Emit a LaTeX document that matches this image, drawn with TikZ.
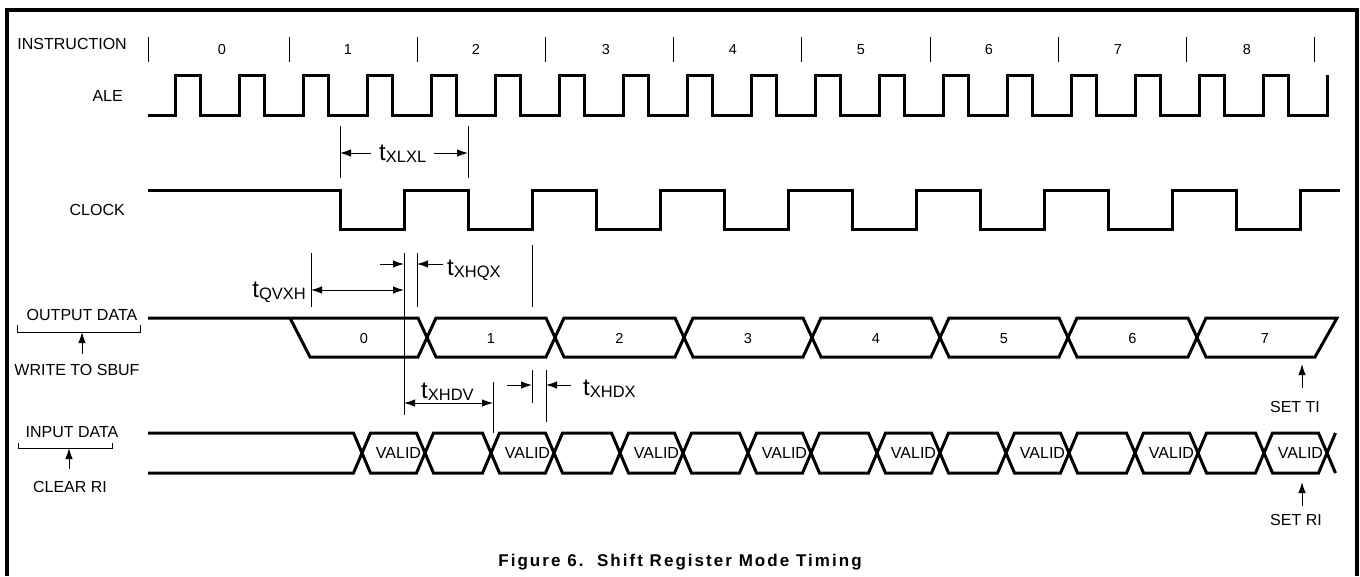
\documentclass[tikz,border=0pt]{standalone}
\usepackage{fontspec}
\setmainfont{Liberation Sans}
\usetikzlibrary{arrows.meta}
\newcommand{\tlab}[1]{{\fontsize{24}{24}\selectfont t}\raisebox{-2.5pt}{\fontsize{16.5}{17}\selectfont #1}}
\tikzset{
  sig/.style={line width=3pt},
  thinln/.style={line width=1pt},
  dim/.style={line width=1pt,-{Latex[length=11pt,width=7.5pt]}},
  dimboth/.style={line width=1pt,{Latex[length=11pt,width=7.5pt]}-{Latex[length=11pt,width=7.5pt]}},
  lbl/.style={font=\fontsize{16}{17}\selectfont, inner sep=0pt},
  num/.style={font=\fontsize{14.5}{15}\selectfont, inner sep=0pt, anchor=base},
  vlbl/.style={font=\fontsize{16}{17}\selectfont, inner sep=0pt, anchor=base},
  tl/.style={inner sep=0pt},
}
\begin{document}
\begin{tikzpicture}[x=1pt,y=-1pt]
\useasboundingbox (0,0) rectangle (1360,576);
% frame
\draw[line width=3.5pt] (7,576) -- (7,10) -- (1357,10) -- (1357,576);

% signal names
\node[lbl,anchor=east] (instr) at (127,44) {INSTRUCTION};
\node[lbl,anchor=east] (ale) at (123,96) {ALE};
\node[lbl,anchor=east] (clk) at (125,210) {CLOCK};
\node[lbl] (od) at (82,315) {OUTPUT DATA};
\node[lbl] (wsb) at (77,370) {WRITE TO SBUF};
\node[lbl] (id) at (72,432) {INPUT DATA};
\node[lbl] (cri) at (70,487) {CLEAR RI};
\node[lbl] (sti) at (1295,407) {SET TI};
\node[lbl] (sri) at (1296,520) {SET RI};

% brackets and arrows at left
\draw[thinln] (17,325) -- (17,332) -- (140,332) -- (140,325);
\coordinate (wsbtip) at (82,332);
\coordinate (wsbtail) at (82,354);
\draw[dim] (wsbtail) -- (wsbtip);
\draw[thinln] (18,443) -- (18,448) -- (112,448) -- (112,443);
\coordinate (critip) at (69,448);
\coordinate (critail) at (69,469);
\draw[dim] (critail) -- (critip);

% SET TI / SET RI arrows
\coordinate (stitip) at (1302,364);
\coordinate (stitail) at (1302,388);
\draw[dim] (stitail) -- (stitip);
\coordinate (sritip) at (1302,482);
\coordinate (sritail) at (1302,506);
\draw[dim] (sritail) -- (sritip);

% instruction ticks and numbers
\foreach \x in {148,289,417,545,673,801,930,1058,1186,1314}
  \draw[thinln] (\x,37) -- (\x,62);
\foreach \x/\n in {222/0,348/1,476/2,606/3,733/4,861/5,989/6,1118/7,1247/8}
  \node[num] (i\n) at (\x,54) {\n};

% ALE
\draw[sig] (148,115) \foreach \k in {0,...,17}{ -- ({175+64*\k},115) -- ({175+64*\k},75) -- ({200+64*\k},75) -- ({200+64*\k},115) } -- (1327,115) -- (1327,75);

% CLOCK
\draw[sig] (148,190) \foreach \k in {0,...,7}{ -- ({340+128*\k},190) -- ({340+128*\k},229) -- ({404+128*\k},229) -- ({404+128*\k},190) } -- (1340,190);

% OUTPUT DATA bus
\draw[sig] (148,318) -- (418,318) -- (427,337.5) -- (418,357) -- (310,357) -- (290,318);
\node[num] (o0) at (364,343) {0};
\foreach \a/\b/\n in {427/555/1,555/684/2,684/812/3,812/940/4,940/1068/5,1068/1197/6} {
  \draw[sig] (\a,337.5) -- (\a+9,318) -- (\b-9,318) -- (\b,337.5) -- (\b-9,357) -- (\a+9,357) -- cycle;
  \node[num] (o\n) at ({(\a+\b)/2},343) {\n};
}
\draw[sig] (1197,337.5) -- (1206,318) -- (1337,318) -- (1315,357) -- (1206,357) -- cycle;
\node[num] (o7) at (1265,343) {7};

% INPUT DATA bus
\draw[sig] (148,433) -- (353.5,433) -- (362,453) -- (353.5,473) -- (148,473);
\foreach \a/\b in {362/425,425/491,491/554,554/620,620/683,683/748,748/811,811/877,877/940,940/1006,1006/1069,1069/1135,1135/1198,1198/1264,1264/1327}
  \draw[sig] (\a,453) -- (\a+8.5,433) -- (\b-8.5,433) -- (\b,453) -- (\b-8.5,473) -- (\a+8.5,473) -- cycle;
\draw[sig] (1335.5,433) -- (1327,453) -- (1335.5,473);
\foreach \a/\b/\n in {362/425/1,491/554/2,620/683/3,748/811/4,877/940/5,1006/1069/6,1135/1198/7,1264/1327/8}
  \node[vlbl] (v\n) at ({(\a+\b)/2+5},458) {VALID};

% t_XLXL
\draw[thinln] (340,126) -- (340,178);
\draw[thinln] (468,126) -- (468,178);
\coordinate (xlA) at (340,153);
\coordinate (xlB) at (468,153);
\node[tl,anchor=base west] (txlxl) at (379,160) {\tlab{XLXL}};
\draw[dim] (371,153) -- (xlA);
\draw[dim] (434,153) -- (xlB);

% t_QVXH, t_XHQX
\draw[thinln] (311,253) -- (311,307);
\draw[thinln] (404,253) -- (404,415);
\draw[thinln] (417,253) -- (417,307);
\draw[thinln] (532,245) -- (532,307);
\coordinate (qvA) at (311,290);
\coordinate (qvB) at (404,290);
\draw[dimboth] (qvA) -- (qvB);
\node[tl,anchor=base east] (tqvxh) at (306,297) {\tlab{QVXH}};
\coordinate (xqA) at (404,264);
\coordinate (xqB) at (417,264);
\draw[dim] (380,264) -- (xqA);
\draw[dim] (443,264) -- (xqB);
\node[tl,anchor=base west] (txhqx) at (447,275) {\tlab{XHQX}};

% t_XHDV, t_XHDX
\draw[thinln] (493,382) -- (493,433);
\coordinate (dvA) at (404,403);
\coordinate (dvB) at (493,403);
\draw[dimboth] (dvA) -- (dvB);
\node[tl,anchor=base west] (txhdv) at (421,398) {\tlab{XHDV}};
\draw[thinln] (532,370) -- (532,403);
\draw[thinln] (546,370) -- (546,422);
\coordinate (dxA) at (532,385);
\coordinate (dxB) at (546,385);
\draw[dim] (507,385) -- (dxA);
\draw[dim] (571,385) -- (dxB);
\node[tl,anchor=base west] (txhdx) at (583,395) {\tlab{XHDX}};

% caption
\node[inner sep=0pt,font=\bfseries\fontsize{17}{19}\selectfont\addfontfeature{LetterSpace=12}] (cap) at (680,562) {Figure 6.\ \ Shift Register Mode Timing};
\end{tikzpicture}
\end{document}
